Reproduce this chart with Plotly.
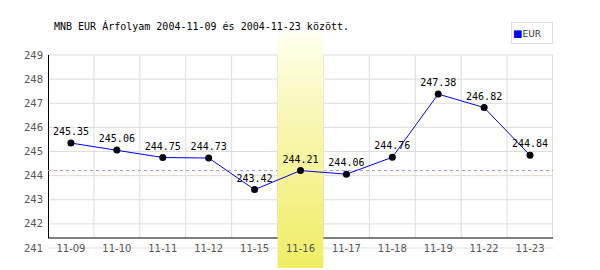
import plotly.graph_objects as go

# ---- data ----
dates = ["11-09", "11-10", "11-11", "11-12", "11-15", "11-16",
         "11-17", "11-18", "11-19", "11-22", "11-23"]
eur_rates = [245.35, 245.06, 244.75, 244.73, 243.42, 244.21,
             244.06, 244.76, 247.38, 246.82, 244.84]
series_name = "EUR"
highlight_date = "11-16"
y_ticks = [241, 242, 243, 244, 245, 246, 247, 248, 249]
title_text = "MNB EUR Árfolyam 2004-11-09 és 2004-11-23 között."

# ---- geometry (pixels) ----
W, H = 600, 270
L, R, T, B = 48, 553, 33, 268          # plot area in pixels
Y_TOP_PX, Y_BOT_PX = 55, 248           # pixel rows of y=249 and y=241
AXIS_PX = 238                           # pixel row of the black x-axis line
ppu = (Y_BOT_PX - Y_TOP_PX) / (y_ticks[-1] - y_ticks[0])
y_hi = y_ticks[-1] + (Y_TOP_PX - T) / ppu
y_lo = y_ticks[0] - (B - Y_BOT_PX) / ppu
y_axis_val = y_ticks[-1] - (AXIS_PX - Y_TOP_PX) / ppu
n = len(dates)
ppc = (R - L) / n
half_px = 0.5 / ppc


def px_x(p):
    return (p - L) / (R - L)


def px_y(p):
    return (B - p) / (B - T)


fig = go.Figure()

fig.add_trace(go.Scatter(
    x=dates, y=eur_rates, mode="lines+markers+text",
    line=dict(color="#0000ff", width=1),
    marker=dict(color="black", size=7, line=dict(width=0)),
    text=[f"{v:.2f}" for v in eur_rates], textposition="top center",
    textfont=dict(family="DejaVu Sans Mono", size=10, color="black"),
    cliponaxis=False, showlegend=False, hoverinfo="skip",
))

shapes = []
grid = "#dddddd"
# horizontal gridlines
for v in y_ticks:
    shapes.append(dict(type="line", xref="x", yref="y", x0=-0.5, x1=n - 0.5,
                       y0=v, y1=v, line=dict(color=grid, width=1), layer="between"))
# vertical gridlines at category boundaries
for k in range(1, n + 1):
    xv = k - 0.5 - (half_px if k == n else 0)
    shapes.append(dict(type="line", xref="x", yref="y", x0=xv, x1=xv,
                       y0=y_axis_val, y1=y_ticks[-1],
                       line=dict(color=grid, width=1), layer="between"))
# black axis lines
shapes.append(dict(type="line", xref="x", yref="y", x0=-0.5 + half_px, x1=-0.5 + half_px,
                   y0=y_axis_val, y1=y_ticks[-1], line=dict(color="black", width=1),
                   layer="between"))
shapes.append(dict(type="line", xref="x", yref="y", x0=-0.5, x1=n - 0.5,
                   y0=y_axis_val, y1=y_axis_val, line=dict(color="black", width=1),
                   layer="between"))
# reference dashed line at highlighted day's value
hi = dates.index(highlight_date)
shapes.append(dict(type="line", xref="x", yref="y", x0=-0.5, x1=n - 0.5,
                   y0=eur_rates[hi], y1=eur_rates[hi],
                   line=dict(color="#9999ff", width=1, dash="3px,3px"), layer="between"))
# highlight band with vertical gradient
top_c = (255, 255, 242)
bot_c = (240, 237, 100)
N = 47
step = (y_hi - y_lo) / N
for i in range(N):
    t = ((i + 0.5) / N) ** 0.85
    c = tuple(round(a + (b - a) * t) for a, b in zip(top_c, bot_c))
    shapes.append(dict(type="rect", xref="x", yref="y", x0=hi - 0.5, x1=hi + 0.5,
                       y0=y_hi - (i + 1) * step - 0.002, y1=y_hi - i * step + 0.002,
                       fillcolor=f"rgb{c}", line=dict(width=0), layer="between"))

annotations = [
    dict(text=title_text, xref="paper", yref="paper", x=px_x(52), y=px_y(26),
         xanchor="left", yanchor="middle", showarrow=False,
         font=dict(family="DejaVu Sans Mono", size=10, color="black")),
    dict(text=f"<span style='color:#0000ff;font-size:10px'>■</span>{series_name}",
         xref="paper", yref="paper", x=px_x(511), y=px_y(33),
         xanchor="left", yanchor="middle", showarrow=False, align="left",
         width=38, height=18, borderpad=1, bordercolor="#dddddd", borderwidth=1,
         bgcolor="white",
         font=dict(family="DejaVu Sans", size=9, color="#333333")),
]

fig.update_layout(
    width=W, height=H,
    margin=dict(l=L, r=W - R, t=T, b=H - B, pad=0),
    paper_bgcolor="white", plot_bgcolor="rgba(0,0,0,0)",
    shapes=shapes, annotations=annotations,
    xaxis=dict(type="category", range=[-0.5, n - 0.5], anchor="free",
               position=px_y(AXIS_PX), showgrid=False, showline=False,
               zeroline=False, ticks="", fixedrange=True, ticklabelstandoff=3,
               tickfont=dict(family="DejaVu Sans", size=10, color="#555555")),
    yaxis=dict(range=[y_lo, y_hi], tickvals=y_ticks, showgrid=False,
               showline=False, zeroline=False, ticks="", ticklabelstandoff=4,
               tickfont=dict(family="DejaVu Sans", size=10, color="#555555")),
    showlegend=False,
)

fig.write_html("out.html")
